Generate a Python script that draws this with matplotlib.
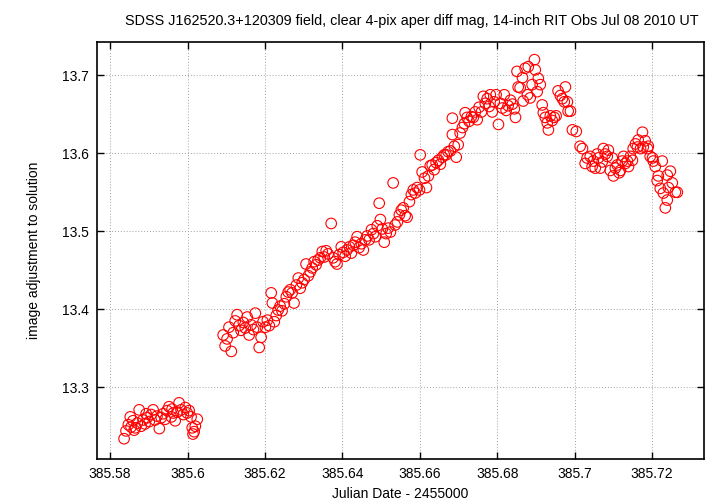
"""SDSS J162520.3+120309 差分測光ライトカーブ"""

import matplotlib

matplotlib.use("Agg")
import matplotlib.pyplot as plt
from matplotlib.ticker import FixedLocator, FuncFormatter

plt.rcParams["font.family"] = ["Liberation Sans", "DejaVu Sans"]

# 観測時刻 (JD - 2455000) と等級
jd_early = [
    385.5836, 385.5841, 385.5847, 385.5852, 385.5854, 385.5859, 385.5862,
    385.5865, 385.5870, 385.5875, 385.5880, 385.5885, 385.5890, 385.5893,
    385.5896, 385.5901, 385.5906, 385.5911, 385.5916, 385.5921, 385.5927,
    385.5932, 385.5937, 385.5942, 385.5947, 385.5952, 385.5958, 385.5960,
    385.5963, 385.5968, 385.5973, 385.5978, 385.5983, 385.5989, 385.5994,
    385.5999, 385.6004, 385.6009, 385.6012, 385.6014, 385.6017, 385.6020,
    385.6025,
]
mag_early = [
    13.234, 13.244, 13.252, 13.262, 13.249, 13.257, 13.245,
    13.248, 13.254, 13.271, 13.250, 13.258, 13.253, 13.266,
    13.261, 13.256, 13.265, 13.271, 13.258, 13.263, 13.247,
    13.261, 13.266, 13.259, 13.270, 13.275, 13.262, 13.272,
    13.267, 13.257, 13.268, 13.280, 13.271, 13.265, 13.274,
    13.267, 13.270, 13.262, 13.248, 13.240, 13.243, 13.250,
    13.259,
]

jd_late = [
    385.6092, 385.6097, 385.6102, 385.6107, 385.6113, 385.6118, 385.6123,
    385.6128, 385.6133, 385.6138, 385.6144, 385.6149, 385.6154, 385.6159,
    385.6164, 385.6170, 385.6175, 385.6180, 385.6185, 385.6190, 385.6195,
    385.6201, 385.6206, 385.6211, 385.6216, 385.6219, 385.6224, 385.6229,
    385.6234, 385.6239, 385.6244, 385.6250, 385.6255, 385.6260, 385.6265,
    385.6270, 385.6275, 385.6281, 385.6286, 385.6291, 385.6296, 385.6301,
    385.6306, 385.6312, 385.6317, 385.6322, 385.6327, 385.6332, 385.6337,
    385.6343, 385.6348, 385.6353, 385.6358, 385.6363, 385.6371, 385.6376,
    385.6381, 385.6386, 385.6392, 385.6397, 385.6402, 385.6407, 385.6412,
    385.6418, 385.6423, 385.6428, 385.6433, 385.6438, 385.6443, 385.6449,
    385.6454, 385.6459, 385.6464, 385.6469, 385.6475, 385.6480, 385.6485,
    385.6490, 385.6495, 385.6498, 385.6503, 385.6508, 385.6513, 385.6518,
    385.6524, 385.6531, 385.6536, 385.6542, 385.6547, 385.6552, 385.6557,
    385.6562, 385.6567, 385.6573, 385.6578, 385.6583, 385.6588, 385.6593,
    385.6599, 385.6601, 385.6606, 385.6612, 385.6617, 385.6622, 385.6627,
    385.6632, 385.6637, 385.6642, 385.6648, 385.6653, 385.6658, 385.6663,
    385.6668, 385.6673, 385.6679, 385.6684, 385.6684, 385.6689, 385.6694,
    385.6699, 385.6704, 385.6710, 385.6715, 385.6717, 385.6722, 385.6727,
    385.6733, 385.6738, 385.6743, 385.6748, 385.6753, 385.6759, 385.6764,
    385.6769, 385.6774, 385.6779, 385.6782, 385.6787, 385.6792, 385.6797,
    385.6803, 385.6808, 385.6813, 385.6818, 385.6823, 385.6828, 385.6834,
    385.6839, 385.6844, 385.6847, 385.6851, 385.6854, 385.6859, 385.6865,
    385.6867, 385.6872, 385.6878, 385.6880, 385.6885, 385.6890, 385.6896,
    385.6898, 385.6903, 385.6906, 385.6911, 385.6916, 385.6919, 385.6924,
    385.6929, 385.6932, 385.6937, 385.6942, 385.6947, 385.6952, 385.6957,
    385.6963, 385.6968, 385.6973, 385.6976, 385.6981, 385.6983, 385.6989,
    385.6994, 385.7004, 385.7014, 385.7020, 385.7027, 385.7032, 385.7040,
    385.7045, 385.7048, 385.7053, 385.7058, 385.7061, 385.7066, 385.7071,
    385.7074, 385.7079, 385.7084, 385.7087, 385.7092, 385.7097, 385.7100,
    385.7105, 385.7110, 385.7115, 385.7118, 385.7123, 385.7126, 385.7131,
    385.7136, 385.7139, 385.7144, 385.7149, 385.7151, 385.7157, 385.7162,
    385.7164, 385.7170, 385.7175, 385.7177, 385.7182, 385.7188, 385.7190,
    385.7195, 385.7201, 385.7203, 385.7208, 385.7213, 385.7216, 385.7221,
    385.7226, 385.7229, 385.7234, 385.7239, 385.7239, 385.7242, 385.7247,
    385.7252, 385.7260, 385.7265,
]
mag_late = [
    13.367, 13.353, 13.362, 13.377, 13.346, 13.370, 13.385,
    13.393, 13.379, 13.373, 13.383, 13.376, 13.390, 13.367,
    13.380, 13.374, 13.395, 13.377, 13.351, 13.364, 13.384,
    13.377, 13.386, 13.379, 13.421, 13.408, 13.384, 13.392,
    13.399, 13.404, 13.398, 13.407, 13.416, 13.422, 13.425,
    13.421, 13.408, 13.431, 13.440, 13.427, 13.434, 13.438,
    13.458, 13.443, 13.448, 13.453, 13.461, 13.457, 13.463,
    13.466, 13.474, 13.467, 13.475, 13.471, 13.510, 13.466,
    13.461, 13.458, 13.470, 13.480, 13.473, 13.468, 13.476,
    13.480, 13.472, 13.482, 13.486, 13.493, 13.479, 13.484,
    13.476, 13.489, 13.494, 13.489, 13.502, 13.497, 13.493,
    13.507, 13.536, 13.515, 13.503, 13.486, 13.497, 13.504,
    13.499, 13.562, 13.508, 13.512, 13.521, 13.527, 13.530,
    13.520, 13.518, 13.538, 13.547, 13.553, 13.549, 13.556,
    13.553, 13.598, 13.576, 13.568, 13.556, 13.571, 13.584,
    13.585, 13.579, 13.588, 13.591, 13.586, 13.595, 13.598,
    13.598, 13.602, 13.603, 13.624, 13.645, 13.609, 13.595,
    13.611, 13.626, 13.633, 13.638, 13.652, 13.646, 13.641,
    13.647, 13.646, 13.653, 13.643, 13.659, 13.653, 13.673,
    13.664, 13.670, 13.660, 13.675, 13.653, 13.666, 13.675,
    13.637, 13.664, 13.658, 13.675, 13.655, 13.661, 13.668,
    13.663, 13.657, 13.646, 13.705, 13.685, 13.684, 13.697,
    13.667, 13.709, 13.675, 13.711, 13.671, 13.688, 13.720,
    13.707, 13.679, 13.696, 13.688, 13.662, 13.652, 13.646,
    13.639, 13.630, 13.648, 13.642, 13.646, 13.648, 13.680,
    13.674, 13.670, 13.666, 13.685, 13.666, 13.654, 13.654,
    13.630, 13.628, 13.609, 13.606, 13.587, 13.594, 13.596,
    13.583, 13.590, 13.581, 13.599, 13.594, 13.581, 13.589,
    13.606, 13.599, 13.596, 13.604, 13.578, 13.594, 13.571,
    13.581, 13.585, 13.575, 13.578, 13.590, 13.596, 13.587,
    13.590, 13.583, 13.596, 13.591, 13.606, 13.612, 13.608,
    13.617, 13.606, 13.627, 13.608, 13.616, 13.606, 13.609,
    13.596, 13.594, 13.590, 13.583, 13.565, 13.571, 13.555,
    13.590, 13.549, 13.530, 13.540, 13.572, 13.556, 13.577,
    13.562, 13.550, 13.550,
]

x_ticks = [385.58, 385.60, 385.62, 385.64, 385.66, 385.68, 385.70, 385.72]
y_ticks = [13.3, 13.4, 13.5, 13.6, 13.7]

TITLE = ("SDSS J162520.3+120309 field, clear 4-pix aper diff mag, "
         "14-inch RIT Obs Jul 08 2010 UT")


def main() -> None:
    fig = plt.figure(figsize=(7.2, 5.04), dpi=100)
    ax = fig.add_axes([0.1347, 0.0893, 0.8431, 0.8274])

    # 中抜きの赤丸
    for jd, mag in ((jd_early, mag_early), (jd_late, mag_late)):
        ax.scatter(jd, mag, s=58, facecolors="none", edgecolors="red",
                   linewidths=0.8, zorder=3)

    ax.set_xlim(385.5766, 385.7334)
    ax.set_ylim(13.208, 13.7427)

    ax.xaxis.set_major_locator(FixedLocator(x_ticks))
    ax.yaxis.set_major_locator(FixedLocator(y_ticks))
    fmt = FuncFormatter(lambda v, p: f"{v:g}")
    ax.xaxis.set_major_formatter(fmt)
    ax.yaxis.set_major_formatter(fmt)

    # gnuplot風：内向き目盛り、四辺に目盛り、点線グリッド
    ax.tick_params(direction="in", length=5, width=1.0, top=True, right=True,
                   labelsize=10, pad=6)
    ax.grid(True, color="#a0a0a0", linestyle=(0, (1, 2)), linewidth=0.7)
    for sp in ax.spines.values():
        sp.set_linewidth(1.2)

    # タイトルは少し右寄り
    ax.set_title(TITLE, fontsize=10.4, pad=12, x=0.518)
    ax.set_xlabel("Julian Date - 2455000", fontsize=10, labelpad=4)
    ax.set_ylabel("image adjustment to solution", fontsize=10, labelpad=15)

    fig.savefig("out.png", dpi=100, facecolor="white")
    plt.close(fig)


if __name__ == "__main__":
    main()
